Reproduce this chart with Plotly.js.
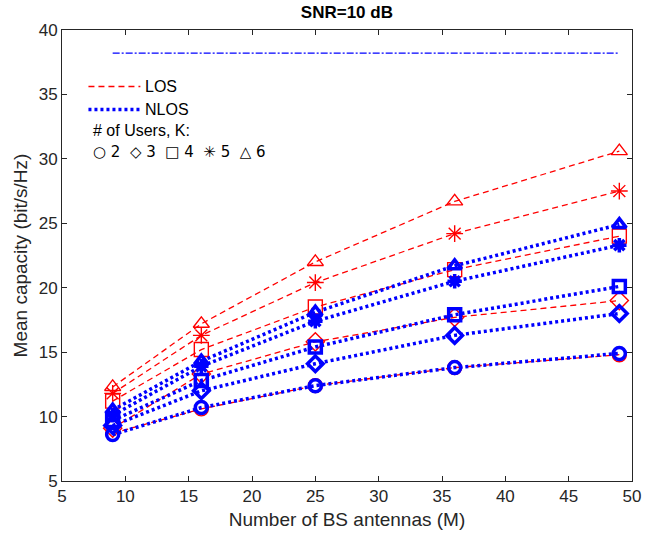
<!DOCTYPE html>
<html>
<head>
<meta charset="utf-8">
<script src="https://cdn.plot.ly/plotly-3.0.1.min.js"></script>
<style>html,body{margin:0;padding:0;background:#fff;}#chart{width:646px;height:535px;}</style>
</head>
<body>
<div id="chart"></div>
<script>
// Number of BS antennas (M)
const antennas = [9, 16, 25, 36, 49];
const users = [2, 3, 4, 5, 6];
// LOS mean capacity per K
const losK2 = [8.7, 10.6, 12.4, 13.8, 14.8];
const losK3 = [9.1, 13.3, 15.8, 17.7, 19.0];
const losK4 = [11.2, 15.2, 18.5, 21.4, 24.0];
const losK5 = [11.8, 16.3, 20.4, 24.2, 27.5];
const losK6 = [12.3, 17.2, 22.0, 26.7, 30.6];
// NLOS mean capacity per K
const nlosK2 = [8.6, 10.7, 12.4, 13.8, 14.9];
const nlosK3 = [9.3, 12.0, 14.1, 16.3, 18.0];
const nlosK4 = [9.7, 12.8, 15.4, 17.9, 20.1];
const nlosK5 = [10.1, 13.9, 17.4, 20.5, 23.3];
const nlosK6 = [10.5, 14.3, 18.1, 21.7, 24.9];
// Upper bound line
const boundX = [9, 49];
const boundY = [38.2, 38.2];

const losSeries = [losK2, losK3, losK4, losK5, losK6];
const nlosSeries = [nlosK2, nlosK3, nlosK4, nlosK5, nlosK6];
const symbols = ['circle-open', 'diamond-open', 'square-open', 'asterisk-open', 'triangle-up-open'];

const traces = [];
losSeries.forEach((ys, i) => {
  traces.push({
    x: antennas, y: ys, type: 'scatter', mode: 'lines+markers',
    name: 'LOS K=' + users[i], showlegend: false,
    line: {color: '#FF0000', width: 1.3, dash: '6px,4px'},
    marker: {symbol: symbols[i], size: 14, color: '#FF0000', line: {color: '#FF0000', width: 1.4}}
  });
});
nlosSeries.forEach((ys, i) => {
  traces.push({
    x: antennas, y: ys, type: 'scatter', mode: 'lines+markers',
    name: 'NLOS K=' + users[i], showlegend: false,
    line: {color: '#0000FF', width: 3.5, dash: '3px,3px'},
    marker: {symbol: symbols[i], size: 12, color: '#0000FF', line: {color: '#0000FF', width: 3.5}}
  });
});
traces.push({
  x: boundX, y: boundY, type: 'scatter', mode: 'lines', showlegend: false, name: 'bound',
  line: {color: '#0000FF', width: 1.2, dash: '7px,2px,2px,2px'}
});

const axisCommon = {
  showgrid: false, zeroline: false, showline: true, mirror: 'ticks',
  linecolor: '#262626', linewidth: 1, ticks: 'inside', ticklen: 5, tickcolor: '#262626',
  tickfont: {family: 'Liberation Sans, Arial, sans-serif', size: 17, color: '#262626'}
};

const layout = {
  width: 646, height: 535,
  margin: {l: 61.5, r: 13.5, t: 30, b: 54},
  paper_bgcolor: '#fff', plot_bgcolor: '#fff',
  font: {family: 'Liberation Sans, Arial, sans-serif', color: '#262626'},
  title: {text: '<b>SNR=10 dB</b>', x: 0.537, xanchor: 'center', y: 0.978, yanchor: 'middle',
          font: {size: 17, color: '#000', family: 'Liberation Sans, Arial, sans-serif'}},
  xaxis: Object.assign({}, axisCommon, {
    range: [5, 50], tickvals: [5,10,15,20,25,30,35,40,45,50],
    title: {text: 'Number of BS antennas (M)', standoff: 7, font: {size: 19, color: '#262626'}}
  }),
  yaxis: Object.assign({}, axisCommon, {
    range: [5, 40], tickvals: [5,10,15,20,25,30,35,40],
    title: {text: 'Mean capacity (bit/s/Hz)', standoff: 6, font: {size: 19, color: '#262626'}}
  }),
  shapes: [
    {type: 'line', xref: 'paper', yref: 'paper', x0: (88-61.5)/571, x1: (140-61.5)/571,
     y0: (481-86.5)/451, y1: (481-86.5)/451, line: {color: '#FF0000', width: 1.3, dash: '6px,4px'}},
    {type: 'line', xref: 'paper', yref: 'paper', x0: (88-61.5)/571, x1: (140-61.5)/571,
     y0: (481-109.5)/451, y1: (481-109.5)/451, line: {color: '#0000FF', width: 3.5, dash: '3px,3px'}}
  ],
  annotations: [
    {xref: 'paper', yref: 'paper', x: (143-61.5)/571, y: (481-86.5)/451, xanchor: 'left', yanchor: 'middle',
     text: 'LOS', showarrow: false, font: {size: 16, color: '#000'}},
    {xref: 'paper', yref: 'paper', x: (143-61.5)/571, y: (481-109.5)/451, xanchor: 'left', yanchor: 'middle',
     text: 'NLOS', showarrow: false, font: {size: 16, color: '#000'}},
    {xref: 'paper', yref: 'paper', x: (91-61.5)/571, y: (481-130)/451, xanchor: 'left', yanchor: 'middle',
     text: '# of Users, K:', showarrow: false, font: {size: 16, color: '#000'}},
    {xref: 'paper', yref: 'paper', x: (91-61.5)/571, y: (481-152)/451, xanchor: 'left', yanchor: 'middle',
     text: '○ 2  ◇ 3  □ 4  ✳ 5  △ 6', showarrow: false,
     font: {size: 15, color: '#000', family: 'DejaVu Sans, Liberation Sans, sans-serif'}}
  ]
};

Plotly.newPlot('chart', traces, layout, {displayModeBar: false, staticPlot: true});
</script>
</body>
</html>
